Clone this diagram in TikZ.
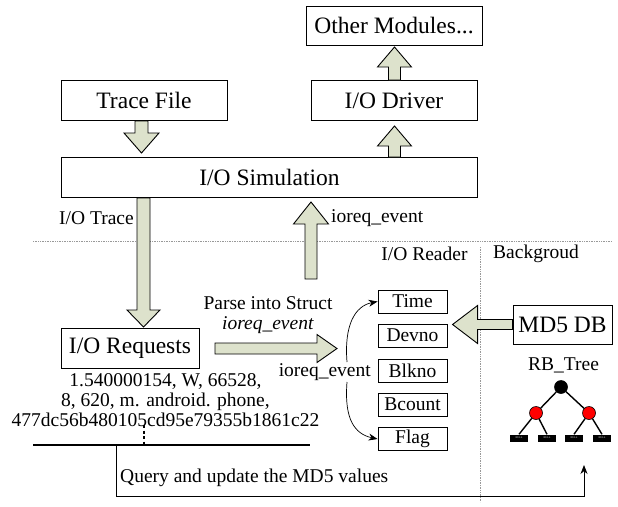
\documentclass[tikz,border=0pt]{standalone}
\usepackage{fontspec}
\setmainfont{Liberation Serif}
\usetikzlibrary{arrows.meta}
\definecolor{arrowfill}{RGB}{221,226,204}
\newcommand{\barrow}[6]{%
  \begin{scope}[shift={#1},rotate=#2]
    \filldraw[blockarrow] (0,#4) -- ({#3-#6},#4) -- ({#3-#6},#5) -- (#3,0) -- ({#3-#6},-#5) -- ({#3-#6},-#4) -- (0,-#4) -- cycle;
  \end{scope}}
\begin{document}
\begin{tikzpicture}[x=1pt,y=-1pt,
  box/.style={draw,line width=0.9pt,inner sep=0pt,font=\fontsize{23.5}{28}\selectfont},
  field/.style={draw,line width=0.9pt,inner sep=0pt,minimum width=69pt,minimum height=23pt,font=\fontsize{19.5}{22}\selectfont},
  lbl/.style={inner sep=0pt,font=\fontsize{19.5}{20}\selectfont},
  blockarrow/.style={fill=arrowfill,draw=black,line width=0.9pt,line join=miter},
  sep/.style={draw=gray!80,densely dotted,line width=0.7pt},
  nullbox/.style={fill=black,minimum width=18pt,minimum height=7pt,inner sep=0pt,text=white,font=\fontsize{2.5}{3}\selectfont},
  rbnode/.style={circle,draw=black,line width=0.6pt,minimum size=13pt,inner sep=0pt},
  tip/.style={-{Stealth[length=9pt,width=7pt]}}]
\useasboundingbox (0,0) rectangle (618,506);

% top boxes
\node[box,minimum width=176pt,minimum height=39pt] (other) at (394,26) {Other Modules...};
\node[box,minimum width=166pt,minimum height=40pt] (trace) at (144,100.5) {Trace File};
\node[box,minimum width=166pt,minimum height=40pt] (driver) at (394,100.5) {I/O Driver};
\node[box,minimum width=416pt,minimum height=40pt] (sim) at (269.5,177) {I/O Simulation};

% block arrows at top
\barrow{(141.5,121)}{-90}{32}{6.5}{17.5}{20}
\barrow{(394.5,157)}{90}{31}{6}{17}{20}
\barrow{(394.5,80)}{90}{33}{6}{17}{20}

% labels under sim
\node[lbl,anchor=east] (iotrace) at (134,218) {I/O Trace};
\node[lbl,anchor=west] (ev1) at (331,218) {ioreq\_event};

% separators
\coordinate (hl) at (33,241);
\coordinate (hr) at (612,241);
\draw[sep] (hl) -- (hr);
\coordinate (vt) at (480,247);
\coordinate (vb) at (480,502);
\draw[sep] (vt) -- (vb);
\node[lbl] (reader) at (424.5,254) {I/O Reader};
\node[lbl] (bg) at (536,254) {Backgroud};

% I/O requests
\node[box,minimum width=138pt,minimum height=40pt] (req) at (130,348) {I/O Requests};
\node[lbl,align=center] (rec) at (165.5,400) {1.540000154, W, 66528,\\8, 620, m. android. phone,\\477dc56b480105cd95e79355b1861c22};

% big arrows middle
\barrow{(143.5,198)}{-90}{129}{6.5}{16.5}{17}
\barrow{(311,279)}{90}{77}{6}{17.5}{22}
\barrow{(215,348.5)}{0}{122}{5.5}{14}{20}

\node[lbl,align=center] (parse) at (268,315) {Parse into Struct\\\textit{ioreq\_event}};
\node[lbl,anchor=east] (ev2) at (371,372) {ioreq\_event};

% fields
\node[field] (time) at (412.5,301.5) {Time};
\node[field] (devno) at (412.5,335.5) {Devno};
\node[field] (blkno) at (412.5,370.5) {Blkno};
\node[field] (bcount) at (412.5,404.5) {Bcount};
\node[field] (flag) at (412.5,439) {Flag};

\coordinate (cu) at (347,362);
\coordinate (cd) at (347,382);
\draw[tip,line width=0.7pt] (cu) .. controls (344,325) and (355,306) .. (time.west);
\draw[tip,line width=0.7pt] (cd) .. controls (344,420) and (355,434) .. (flag.west);

% MD5 DB
\node[box,minimum width=99pt,minimum height=39pt] (md5) at (562.5,324.5) {MD5 DB};
\barrow{(md5.west)}{180}{60}{5}{19}{25}

% RB tree
\node[lbl] (rbt) at (563.5,365) {RB\_Tree};
\node[rbnode,fill=black] (root) at (561,387) {};
\node[rbnode,fill=red] (r1) at (536,413) {};
\node[rbnode,fill=red] (r2) at (589,413) {};
\node[nullbox] (n1) at (519,438) {NULL};
\node[nullbox] (n2) at (547,438) {NULL};
\node[nullbox] (n3) at (574,438) {NULL};
\node[nullbox] (n4) at (602,438) {NULL};
\draw[line width=1.4pt] (root) -- (r1) (root) -- (r2)
  (r1) -- (n1.north) (r1) -- (n2.north) (r2) -- (n3.north) (r2) -- (n4.north);

% bottom bus
\coordinate (busL) at (33,445);
\coordinate (busR) at (310,445);
\draw[line width=2.6pt] (busL) -- (busR);
\coordinate (dotT) at (144,425);
\coordinate (dotB) at (144,444);
\draw[line width=1.8pt,dash pattern=on 3pt off 2.5pt] (dotT) -- (dotB);
\coordinate (q0) at (116,445);
\coordinate (q1) at (116,496);
\coordinate (q2) at (584,496);
\coordinate (q3) at (584,465);
\draw[tip,line width=0.8pt] (q0) -- (q1) -- (q2) -- (q3);
\node[lbl,anchor=west] (query) at (120,478) {Query and update the MD5 values};
\end{tikzpicture}
\end{document}
